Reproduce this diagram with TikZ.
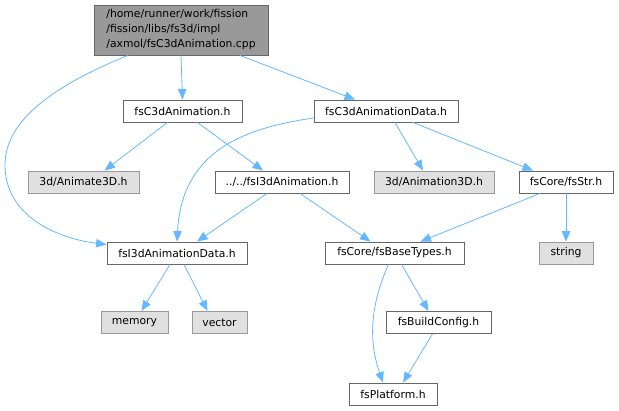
\documentclass[tikz,border=0pt]{standalone}
\usepackage{fontspec}
\setmainfont{DejaVu Sans}
\usepackage{tikz}
\usetikzlibrary{arrows.meta}
\definecolor{edgeblue}{RGB}{99,184,255}
\definecolor{boxline}{RGB}{102,102,102}
\definecolor{extline}{RGB}{153,153,153}
\definecolor{extfill}{RGB}{224,224,224}
\definecolor{rootfill}{RGB}{153,153,153}
\tikzset{
	hdr/.style={draw=boxline, fill=white, line width=0.9pt, inner sep=0pt, minimum height=22pt, font=\fontsize{10.8}{15}\selectfont},
	sys/.style={hdr, draw=extline, fill=extfill},
	incl/.style={draw=edgeblue, line width=0.8pt, -{Triangle[length=10.5pt,width=8.5pt]}, fill=none}
}

\begin{document}
\begin{tikzpicture}[x=1pt, y=-1pt]
		%%%%% START %%%%%
		\useasboundingbox (0, 0) rectangle (619, 411);
		
		\node[hdr, fill=rootfill, minimum width=174pt, minimum height=50pt, align=left] (file) at (181, 30) {/home/runner/work/fission\\/fission/libs/fs3d/impl\\/axmol/fsC3dAnimation.cpp};
		
		\node[hdr, minimum width=119pt] (cahdr) at (182.5, 111) {fsC3dAnimation.h};
		\node[hdr, minimum width=144pt] (cadata) at (386, 111) {fsC3dAnimationData.h};
		
		\node[sys, minimum width=111pt] (animate) at (83.5, 182) {3d/Animate3D.h};
		\node[hdr, minimum width=134pt] (ianim) at (282, 182) {../../fsI3dAnimation.h};
		\node[sys, minimum width=120pt] (anim3d) at (434, 182) {3d/Animation3D.h};
		\node[hdr, minimum width=94pt] (fsstr) at (566, 182) {fsCore/fsStr.h};
		
		\node[hdr, minimum width=140pt] (idata) at (177, 253) {fsI3dAnimationData.h};
		\node[hdr, minimum width=139pt] (basetypes) at (394.5, 253) {fsCore/fsBaseTypes.h};
		\node[sys, minimum width=54pt] (string) at (566, 253) {string};
		
		\node[sys, minimum width=67pt] (memory) at (134.5, 322.5) {memory};
		\node[sys, minimum width=55pt] (vector) at (219.5, 322.5) {vector};
		\node[hdr, minimum width=105pt] (config) at (438.5, 322.5) {fsBuildConfig.h};
		
		\node[hdr, minimum width=88pt] (platform) at (393, 394) {fsPlatform.h};
		
		% edges out of the .cpp
		\draw[incl] ([xshift=-53pt]file.south) .. controls (55, 85) and (5, 120) .. (5, 165) .. controls (5, 215) and (55, 238) .. ([yshift=-3pt]idata.north west);
		\draw[incl] (file.south) -- (cahdr.north);
		\draw[incl] ([xshift=59pt]file.south) -- ([xshift=-31pt]cadata.north);
		
		\draw[incl] ([xshift=-15pt]cahdr.south) -- ([xshift=21pt]animate.north);
		\draw[incl] ([xshift=15pt]cahdr.south) -- ([xshift=-19pt]ianim.north);
		
		\draw[incl] ([yshift=-7pt]cadata.west) .. controls (245, 128) and (182, 150) .. (idata.north);
		\draw[incl] ([xshift=9pt]cadata.south) -- ([xshift=-11pt]anim3d.north);
		\draw[incl] ([xshift=27pt]cadata.south) -- ([xshift=-33pt]fsstr.north);
		
		\draw[incl] ([xshift=-15pt]ianim.south) -- ([xshift=20pt]idata.north);
		\draw[incl] ([xshift=18pt]ianim.south) -- ([xshift=-24pt]basetypes.north);
		
		\draw[incl] ([xshift=-26pt]fsstr.south) -- ([xshift=26pt]basetypes.north);
		\draw[incl] (fsstr.south) -- (string.north);
		
		\draw[incl] ([xshift=-7pt]idata.south) -- ([xshift=7pt]memory.north);
		\draw[incl] ([xshift=7pt]idata.south) -- ([xshift=-12pt]vector.north);
		
		\draw[incl] ([xshift=-6pt]basetypes.south) .. controls (368, 310) and (370, 345) .. ([xshift=-10pt]platform.north);
		\draw[incl] ([xshift=7pt]basetypes.south) -- ([xshift=-10pt]config.north);
		\draw[incl] ([xshift=-6pt]config.south) -- ([xshift=10pt]platform.north);
		
		%%%%% END %%%%%
	\end{tikzpicture}
\end{document}
